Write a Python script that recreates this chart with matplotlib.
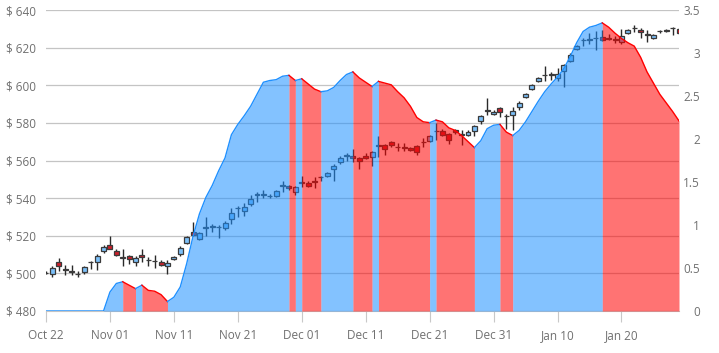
import numpy as np
import pandas as pd
import matplotlib
matplotlib.use("Agg")
import matplotlib.pyplot as plt
import matplotlib.dates as mdates
from matplotlib.ticker import FuncFormatter, FixedLocator

# daily prices, Oct 22 .. Jan 29
opens = [500, 499.5, 506, 502.5, 501.5, 499.5, 500.5, 506, 506, 512,
         515, 512, 508.4, 509, 506, 510, 507, 506.5, 506, 504,
         507.4, 510.5, 516.3, 522, 518.5, 524.3, 524.7, 524.4, 524, 529,
         534.6, 533.3, 537, 541.7, 541.7, 541, 541.3, 546.7, 546.5, 543,
         548.3, 548, 549, 551, 551.8, 555.4, 559, 562.4, 562.4, 561.2,
         562.5, 561.6, 567.8, 568.3, 569.8, 567, 566.7, 566.5, 567.5, 569.6,
         570.6, 575.5, 575.5, 574, 576.3, 573.8, 573.7, 575.8, 580.8, 586.3,
         584.7, 588, 583.6, 584, 588.3, 593.6, 598.2, 602.1, 605.3, 605.7,
         603.9, 607.8, 613.1, 619.5, 623.8, 624.3, 624.9, 625.6, 625.3, 624.3,
         623, 627.9, 630.2, 629.3, 627.4, 625.2, 628.8, 629, 630.2, 629.7]
closes = [500.3, 503, 504, 502, 500.5, 499.3, 503.5, 506.2, 509, 514,
          513.2, 510, 508.2, 507.5, 508, 508.5, 507.2, 506.3, 504.7, 505.6,
          508.8, 513.5, 519.5, 520.5, 521.5, 524.2, 524.6, 524.2, 527, 532,
          534.4, 535.5, 539.5, 541.5, 541.8, 541.2, 544, 546.8, 545.2, 545.8,
          548.2, 546.7, 548.4, 551.2, 553.6, 557, 561.5, 562.2, 561.2, 559.8,
          561.2, 564.3, 567.6, 566, 568.3, 566.8, 566.5, 565.6, 564.4, 569.4,
          573, 575.3, 573.7, 571, 575.1, 573.6, 575, 578.1, 583.5, 586,
          586, 585.6, 583.4, 586.5, 590.6, 595.4, 600, 603.9, 605.2, 605.6,
          606, 610.7, 616.3, 621.1, 623.7, 624.2, 624.7, 624.3, 624.6, 624.2,
          626, 629.5, 630, 628.2, 626.5, 626.7, 628.7, 628.8, 630, 628]
highs = [501, 504, 508, 504.5, 504.5, 501, 504, 506.5, 510.5, 515,
         520, 513, 513, 510, 509, 513, 508.5, 510, 507, 507,
         509.5, 514.5, 520, 527.5, 522, 530, 526, 525.5, 528, 535,
         536, 537.5, 541.5, 543, 544.5, 542, 544.5, 549, 547, 546.5,
         552, 549, 551, 552, 554, 558, 562.5, 564, 566, 562,
         564, 565, 573, 569, 570.5, 569.5, 569.5, 567, 568, 572,
         573.5, 580, 577, 574.5, 577, 576, 576, 579, 584, 593,
         587, 588.5, 584.5, 588.5, 591.5, 596, 600.5, 604.5, 610, 607,
         609, 611.5, 617, 621.5, 625, 628, 629, 629.5, 627, 626,
         630, 630, 632, 630.5, 629.5, 627, 629.5, 630, 631, 630.5]
lows = [499.5, 498, 501, 499, 499, 498, 499.5, 502.5, 502, 511,
        513, 509.5, 504, 505, 504, 506, 504, 503, 504, 499.5,
        507, 509.5, 515.5, 520, 518, 520, 522, 519, 523, 526,
        530, 530.5, 536, 538, 540, 540, 540.5, 543, 544.5, 541.5,
        546, 546, 545.5, 549, 551, 549, 558, 560, 559, 555.5,
        561, 557, 562, 563, 567, 565, 565, 565, 563, 567,
        570, 571, 573, 569, 574, 568, 573, 573, 579.5, 584,
        584, 583, 577, 576, 587, 593, 597.5, 601.5, 602, 603,
        602, 599, 612.5, 618.5, 621, 622, 619, 623.5, 624, 622.5,
        622, 627.5, 628.5, 625, 623, 624.5, 628, 628.5, 626.5, 627]

# secondary series (right axis)
trend = [0, 0, 0, 0, 0, 0, 0, 0, 0, 0,
         0.22, 0.32, 0.34, 0.30, 0.26, 0.30, 0.24, 0.23, 0.19, 0.11,
         0.16, 0.28, 0.55, 0.87, 1.13, 1.32, 1.46, 1.63, 1.78, 2.05,
         2.17, 2.27, 2.38, 2.52, 2.66, 2.68, 2.69, 2.73, 2.74, 2.68,
         2.70, 2.64, 2.58, 2.55, 2.56, 2.60, 2.68, 2.75, 2.78, 2.71,
         2.66, 2.61, 2.67, 2.65, 2.63, 2.55, 2.48, 2.38, 2.25, 2.20,
         2.19, 2.22, 2.20, 2.13, 2.10, 2.04, 1.97, 1.90, 1.98, 2.12,
         2.16, 2.17, 2.08, 2.04, 2.10, 2.20, 2.32, 2.44, 2.55, 2.64,
         2.72, 2.82, 2.96, 3.12, 3.25, 3.30, 3.32, 3.35, 3.30, 3.23,
         3.17, 3.12, 3.08, 2.95, 2.78, 2.65, 2.52, 2.42, 2.32, 2.21]

dates = pd.date_range("2012-10-22", periods=len(opens), freq="D")
tick_dates = pd.date_range("2012-10-22", "2013-01-20", freq="10D")

gray = "#707070"
plt.rcParams["font.family"] = ["Open Sans", "DejaVu Sans"]

fig = plt.figure(figsize=(7.19, 3.53), dpi=100)
ax = fig.add_axes([46 / 719, 42 / 353, 633 / 719, 301 / 353])
x = mdates.date2num(dates)
o = np.array(opens)
c = np.array(closes)

# grid
ax.set_axisbelow(True)
ax.yaxis.grid(True, color="#c4c4c4", lw=0.9)

# candles
up = c >= o
ax.vlines(x, lows, highs, color="#2a2a2a", lw=1, zorder=2)
body = np.where(np.abs(c - o) < 0.3, 0.3, c - o)
ax.bar(x[up], body[up], bottom=o[up], width=0.78, color="#7cc0fa",
       edgecolor="#3a3a3a", lw=0.9, zorder=3)
ax.bar(x[~up], body[~up], bottom=o[~up], width=0.78, color="#cc1f2b",
       edgecolor="#3a3a3a", lw=0.9, zorder=3)

ax.set_ylim(480, 640)
ax.set_yticks(np.arange(480, 641, 20))
ax.yaxis.set_major_formatter(FuncFormatter(lambda v, p: f"$ {v:.0f}"))
ax.set_xlim(x[0], x[0] + 99)
ax.xaxis.set_major_locator(FixedLocator(mdates.date2num(tick_dates)))
ax.xaxis.set_major_formatter(mdates.DateFormatter("%b %d"))
ax.tick_params(axis="x", length=8, width=0.8, color="#c8c8c8", pad=5,
               labelcolor=gray, labelsize=8.5)
ax.tick_params(axis="y", length=0, pad=7, labelcolor=gray, labelsize=8.5)
for s in ["top", "right", "left"]:
    ax.spines[s].set_visible(False)
ax.spines["bottom"].set_color("#c4c4c4")

# area on right axis, coloured by direction (rising blue, falling red)
ax2 = ax.twinx()
v = np.array(trend)
blue, red = "#1e90ff", "#ff0000"
rising = np.diff(v) >= 0
start = 0
for i in range(1, len(rising) + 1):
    if i == len(rising) or rising[i] != rising[start]:
        col = blue if rising[start] else red
        seg = slice(start, i + 1)
        ax2.fill_between(x[seg], v[seg], 0, color=col, alpha=0.55, lw=0)
        ax2.plot(x[seg], v[seg], color=col, lw=1)
        start = i
ax2.set_ylim(0, 3.5)
ax2.set_yticks(np.arange(0, 3.51, 0.5))
ax2.yaxis.set_major_formatter(FuncFormatter(lambda v, p: f"{v:g}"))
ax2.tick_params(axis="y", length=0, pad=15, labelcolor=gray, labelsize=8.5)
for lab in ax2.get_yticklabels():
    lab.set_horizontalalignment("right")
for s in ax2.spines.values():
    s.set_visible(False)

plt.savefig("out.png", dpi=100)
plt.close()
